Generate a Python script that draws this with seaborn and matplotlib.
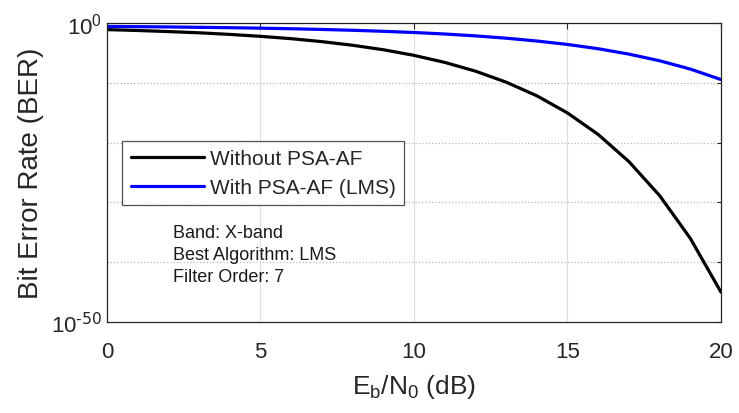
import pandas as pd
import matplotlib
matplotlib.use('Agg')
import matplotlib.pyplot as plt
import seaborn as sns
from matplotlib.ticker import FixedLocator

# values (BER, log axis)
ebn0_db = [0, 1, 2, 3, 4, 5, 6, 7, 8, 9, 10,
           11, 12, 13, 14, 15, 16, 17, 18, 19, 20]
ber_without = [7.9e-2, 5.6e-2, 3.7e-2, 2.3e-2, 1.25e-2, 5.9e-3, 2.4e-3, 7.7e-4,
               1.9e-4, 3.4e-5, 3.9e-6, 2.6e-7, 9.0e-9, 1.3e-10, 6.8e-13,
               9.1e-16, 2.3e-19, 6.8e-24, 1.4e-29, 1.0e-36, 1.0e-45]
ber_with = [2.7e-1, 2.45e-1, 2.2e-1, 1.9e-1, 1.65e-1, 1.37e-1, 1.1e-1, 8.4e-2,
            6.1e-2, 4.1e-2, 2.6e-2, 1.45e-2, 7.1e-3, 2.9e-3, 9.8e-4,
            2.6e-4, 5.0e-5, 6.3e-6, 4.9e-7, 2.0e-8, 3.5e-10]

series_labels = ['Without PSA-AF', 'With PSA-AF (LMS)']
info_lines = ['Band: X-band', 'Best Algorithm: LMS', 'Filter Order: 7']

sns.set_style('white')
plt.rcParams['font.family'] = ['Liberation Sans', 'DejaVu Sans']
plt.rcParams['mathtext.default'] = 'regular'

fig = plt.figure(figsize=(7.39, 4.14), dpi=100)
ax = fig.add_axes([0.1448, 0.2198, 0.8308, 0.7222])

sns.lineplot(x=ebn0_db, y=ber_without, color='black', linewidth=2.3,
             label=series_labels[0], ax=ax)
sns.lineplot(x=ebn0_db, y=ber_with, color='#0000ff', linewidth=2.3,
             label=series_labels[1], ax=ax)

ax.set_yscale('log')
ax.set_xlim(0, 20)
ax.set_ylim(1e-50, 1)

ax.xaxis.set_major_locator(FixedLocator([0, 5, 10, 15, 20]))
ax.yaxis.set_major_locator(FixedLocator([1e-50, 1e0]))
ax.yaxis.set_minor_locator(FixedLocator([1e-40, 1e-30, 1e-20, 1e-10]))
ax.set_yticklabels([r'$10^{\text{-50}}$', r'$10^{0}$'])
ax.yaxis.set_minor_formatter(plt.NullFormatter())

ax.tick_params(which='both', direction='in', top=True, right=True,
               labelsize=16, colors='#262626', length=4, width=0.8)
ax.tick_params(which='minor', length=3)
ax.tick_params(axis='x', pad=14)

ax.grid(axis='x', which='major', color='#dedede', linestyle='-', linewidth=0.8)
ax.grid(axis='y', which='minor', color='#b8b8b8', linestyle=':', linewidth=0.9)
ax.set_axisbelow(True)

for s in ax.spines.values():
    s.set_color('#262626')
    s.set_linewidth(0.9)
    s.set_visible(True)

ax.set_xlabel(r'$E_b/N_0$ (dB)', fontsize=19, color='#262626', labelpad=7)
ax.set_ylabel('Bit Error Rate (BER)', fontsize=20, color='#262626', labelpad=5)

leg = ax.legend(loc='upper left', bbox_to_anchor=(0.025, 0.605), fontsize=15,
                frameon=True, fancybox=False, handlelength=3.5, handletextpad=0.3,
                borderpad=0.4, labelspacing=0.45, borderaxespad=0)
leg.get_frame().set_edgecolor('#262626')
leg.get_frame().set_linewidth(0.9)

ax.text(0.108, 0.328, '\n'.join(info_lines), transform=ax.transAxes,
        fontsize=13, color='#1a1a1a', va='top', ha='left', linespacing=1.4)

fig.savefig('out.png', dpi=100)
